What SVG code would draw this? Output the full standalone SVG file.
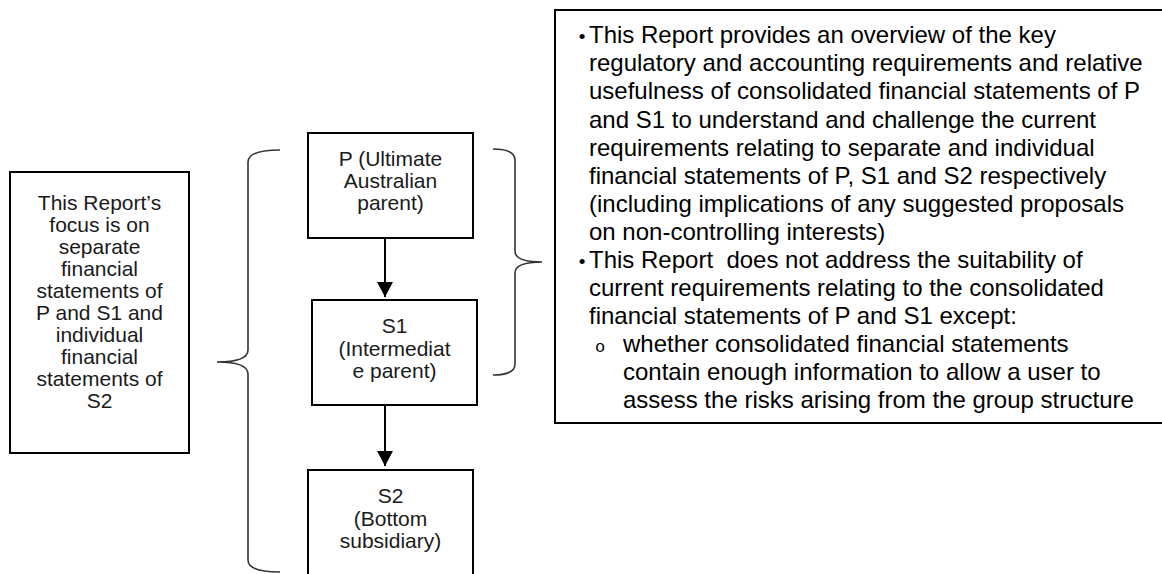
<svg xmlns="http://www.w3.org/2000/svg" width="1162" height="574" viewBox="0 0 1162 574">
<style>
.box{fill:#fff;stroke:#000;stroke-width:2}
.brace{fill:none;stroke:#333;stroke-width:1.6}
.conn{stroke:#000;stroke-width:2;fill:none}
.t{font-family:"Liberation Sans",Arial,sans-serif;font-size:21px;fill:#1a1a1a;text-anchor:middle}
.r{font-family:"Liberation Sans",Arial,sans-serif;font-size:24px;fill:#000}
.b{font-family:"Liberation Sans",Arial,sans-serif;font-size:19px;fill:#000;text-anchor:middle}
.o{font-family:"Liberation Mono","Courier New",monospace;font-size:17px;fill:#000;text-anchor:middle}
</style>
<defs>
<marker id="ah" markerUnits="userSpaceOnUse" markerWidth="15" markerHeight="16" refX="15" refY="8" orient="auto">
<path d="M0,0 L15,8 L0,16 z" fill="#000"/>
</marker>
</defs>
<rect width="1162" height="574" fill="#fff"/>

<g id="focus">
<rect class="box" x="10" y="172" width="179" height="281"/>
<text class="t" x="99.5" y="210">This Report’s</text>
<text class="t" x="99.5" y="232">focus is on</text>
<text class="t" x="99.5" y="254">separate</text>
<text class="t" x="99.5" y="276">financial</text>
<text class="t" x="99.5" y="298">statements of</text>
<text class="t" x="99.5" y="320">P and S1 and</text>
<text class="t" x="99.5" y="342">individual</text>
<text class="t" x="99.5" y="364">financial</text>
<text class="t" x="99.5" y="386">statements of</text>
<text class="t" x="99.5" y="408">S2</text>
</g>

<g id="braces">
<path class="brace" d="M280 150 Q248 150 248 162 L248 350 Q248 362 217 362 Q248 362 248 374 L248 560 Q248 572 280 572"/>
<path class="brace" d="M493 149 Q515 149 515 160 L515 251 Q515 262 542 262 Q515 262 515 273 L515 364 Q515 375 493 375"/>
</g>

<g id="P">
<rect class="box" x="308" y="133" width="165" height="105"/>
<text class="t" x="390.5" y="166">P (Ultimate</text>
<text class="t" x="390.5" y="188">Australian</text>
<text class="t" x="390.5" y="210">parent)</text>
</g>

<g id="S1">
<rect class="box" x="312" y="300" width="165" height="105"/>
<text class="t" x="394.5" y="333">S1</text>
<text class="t" x="394.5" y="355.5">(Intermediat</text>
<text class="t" x="394.5" y="378">e parent)</text>
</g>

<g id="S2">
<rect class="box" x="308" y="470" width="165" height="115"/>
<text class="t" x="390.5" y="503">S2</text>
<text class="t" x="390.5" y="525.5">(Bottom</text>
<text class="t" x="390.5" y="548">subsidiary)</text>
</g>

<g id="connectors">
<line class="conn" x1="385" y1="238" x2="385" y2="297" marker-end="url(#ah)"/>
<line class="conn" x1="385" y1="405" x2="385" y2="466" marker-end="url(#ah)"/>
</g>

<g id="scope">
<rect class="box" x="555" y="10" width="620" height="413"/>
<text class="b" x="582" y="43.3">•</text>
<text class="r" x="589" y="43.3">This Report provides an overview of the key</text>
<text class="r" x="589" y="71.4">regulatory and accounting requirements and relative</text>
<text class="r" x="589" y="99.4">usefulness of consolidated financial statements of P</text>
<text class="r" x="589" y="127.5">and S1 to understand and challenge the current</text>
<text class="r" x="589" y="155.5">requirements relating to separate and individual</text>
<text class="r" x="589" y="183.6">financial statements of P, S1 and S2 respectively</text>
<text class="r" x="589" y="211.6">(including implications of any suggested proposals</text>
<text class="r" x="589" y="239.7">on non-controlling interests)</text>
<text class="b" x="582" y="267.7">•</text>
<text class="r" x="589" y="267.7" xml:space="preserve">This Report  does not address the suitability of</text>
<text class="r" x="589" y="295.8">current requirements relating to the consolidated</text>
<text class="r" x="589" y="323.8">financial statements of P and S1 except:</text>
<text class="o" x="600" y="351.9">o</text>
<text class="r" x="623" y="351.9">whether consolidated financial statements</text>
<text class="r" x="623" y="379.9">contain enough information to allow a user to</text>
<text class="r" x="623" y="408">assess the risks arising from the group structure</text>
</g>
</svg>
